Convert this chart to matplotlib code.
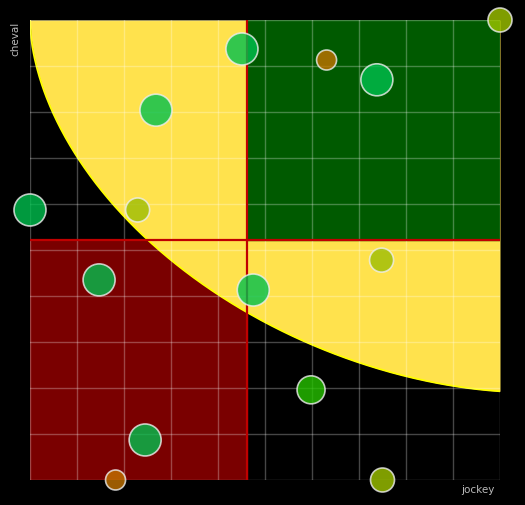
import numpy as np
from matplotlib import pyplot as plt
from matplotlib.patches import Rectangle

# bubble data (normalised 0-10 scale)
jockey = [0, 2.29, 2.68, 4.51, 6.31, 7.38, 10, 7.48, 1.47, 4.75, 5.98, 2.45, 1.82, 7.50]
cheval = [5.87, 5.87, 8.04, 9.37, 9.13, 8.70, 10, 4.78, 4.35, 4.13, 1.96, 0.87, 0, 0]
radius = [16, 12, 16, 16, 10, 16, 12, 12, 16, 16, 14, 16, 10, 12]
colors = ["#00c04e", "#9cbd05", "#00c04e", "#00c04e", "#c37300", "#00c04e", "#a0c600",
          "#9cbd05", "#00c04e", "#00c04e", "#26c300", "#00c04e", "#c37300", "#a0c600"]

# frontier curve (superellipse centred a bit right of the top-right corner)
curve_cx = 10.5
curve_n = 1.8
curve_b = 8.09

xmin, xmax = 0, 10
ymin, ymax = 0, 10
mx = np.mean(jockey)
my = np.mean(cheval)

fig = plt.figure(figsize=(5.25, 5.05), dpi=100, facecolor="black")
ax = fig.add_axes([30 / 525, 25 / 505, 470 / 525, 460 / 505])
ax.set_facecolor("black")
ax.set_xlim(xmin, xmax)
ax.set_ylim(ymin, ymax)

# quadrant backgrounds
ax.add_patch(Rectangle((xmin, ymin), mx - xmin, my - ymin, color="#7a0000", zorder=0))

xs = np.linspace(xmin, xmax, 400)
u = (curve_cx - xs) / (curve_cx - xmin)
ys = ymax - curve_b * (1 - u ** curve_n) ** (1 / curve_n)
ax.fill_between(xs, ys, ymax, color="#ffe24d", lw=0, zorder=1)
ax.plot(xs, ys, color="#ffff00", lw=1.3, zorder=1.1)

ax.add_patch(Rectangle((mx, my), xmax - mx, ymax - my, color="#005a00", zorder=2))

# grid
for g in range(11):
    ax.axvline(g, color="white", alpha=0.28, lw=1, zorder=3)
    ax.axhline(g, color="white", alpha=0.28, lw=1, zorder=3)

ax.axvline(mx, color="#c00000", lw=1.6, zorder=4)
ax.axhline(my, color="#c00000", lw=1.6, zorder=4)

sizes = [(2 * r * 0.72) ** 2 for r in radius]
ax.scatter(jockey, cheval, s=sizes, c=colors, alpha=0.8, edgecolors="#eeeeee",
           linewidths=1.2, zorder=5, clip_on=False)

for sp in ax.spines.values():
    sp.set_visible(False)
ax.set_xticks([])
ax.set_yticks([])

fig.text(15 / 525, 1 - 22 / 505, "cheval", rotation=90, color="#bbbbbb",
         fontsize=7.5, ha="center", va="top")
fig.text(495 / 525, 1 - 490 / 505, "jockey", color="#bbbbbb",
         fontsize=7.5, ha="right", va="center")

fig.savefig("out.png", dpi=100, facecolor="black")
